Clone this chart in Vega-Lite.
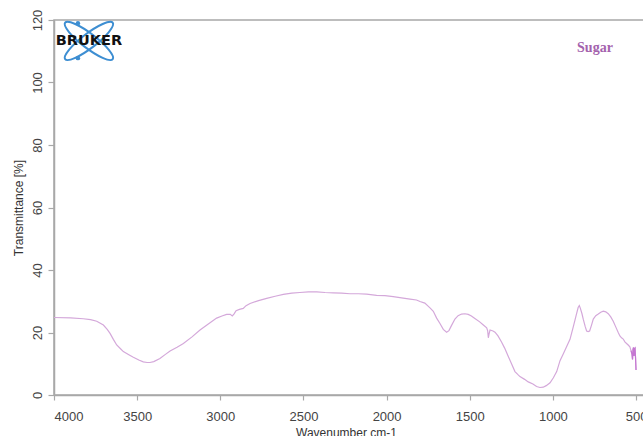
{
  "$schema": "https://vega.github.io/schema/vega-lite/v6.json",
  "width": 590,
  "height": 375,
  "autosize": {"type": "none"},
  "padding": {"left": 54, "top": 20, "right": 0, "bottom": 41},
  "background": "white",
  "config": {
    "view": {"stroke": "#a8a8a8", "strokeWidth": 1.5},
    "axis": {
      "domainColor": "#a8a8a8", "domainWidth": 1.5, "tickColor": "#a8a8a8", "tickWidth": 1.2,
      "labelColor": "#444444", "titleColor": "#333333",
      "labelFont": "Liberation Sans", "titleFont": "Liberation Sans",
      "labelFontSize": 13, "titleFontSize": 12, "titleFontWeight": "normal", "grid": false
    }
  },
  "datasets": {
    "spectrum": [
      {"wn":4000,"t":24.8},{"wn":3900,"t":24.7},{"wn":3824,"t":24.4},{"wn":3780,"t":24.1},{"wn":3743,"t":23.6},
      {"wn":3703,"t":22.4},{"wn":3680,"t":21.0},{"wn":3663,"t":19.7},{"wn":3643,"t":17.8},{"wn":3623,"t":16.0},
      {"wn":3600,"t":14.8},{"wn":3583,"t":13.9},{"wn":3550,"t":12.9},{"wn":3523,"t":12.1},{"wn":3490,"t":11.2},
      {"wn":3463,"t":10.6},{"wn":3440,"t":10.4},{"wn":3423,"t":10.4},{"wn":3400,"t":10.7},{"wn":3363,"t":11.7},
      {"wn":3330,"t":13.0},{"wn":3302,"t":14.1},{"wn":3260,"t":15.3},{"wn":3222,"t":16.5},{"wn":3170,"t":18.6},
      {"wn":3122,"t":20.8},{"wn":3070,"t":22.8},{"wn":3022,"t":24.6},{"wn":2990,"t":25.3},{"wn":2962,"t":25.8},
      {"wn":2940,"t":25.8},{"wn":2928,"t":25.3},{"wn":2918,"t":25.9},{"wn":2905,"t":27.0},{"wn":2885,"t":27.4},
      {"wn":2862,"t":27.7},{"wn":2845,"t":28.6},{"wn":2821,"t":29.3},{"wn":2770,"t":30.2},{"wn":2721,"t":30.9},
      {"wn":2670,"t":31.6},{"wn":2621,"t":32.2},{"wn":2570,"t":32.6},{"wn":2521,"t":32.8},{"wn":2470,"t":33.0},
      {"wn":2420,"t":33.0},{"wn":2370,"t":32.8},{"wn":2320,"t":32.7},{"wn":2270,"t":32.6},{"wn":2220,"t":32.4},
      {"wn":2170,"t":32.4},{"wn":2120,"t":32.3},{"wn":2060,"t":31.9},{"wn":2010,"t":31.8},{"wn":1960,"t":31.5},
      {"wn":1910,"t":31.1},{"wn":1859,"t":30.7},{"wn":1820,"t":30.4},{"wn":1799,"t":29.9},{"wn":1770,"t":29.4},
      {"wn":1739,"t":27.9},{"wn":1719,"t":26.8},{"wn":1699,"t":24.6},{"wn":1679,"t":22.9},{"wn":1659,"t":21.0},
      {"wn":1639,"t":20.1},{"wn":1625,"t":20.6},{"wn":1610,"t":22.2},{"wn":1589,"t":24.3},{"wn":1570,"t":25.4},
      {"wn":1549,"t":25.9},{"wn":1529,"t":26.0},{"wn":1509,"t":25.8},{"wn":1490,"t":25.3},{"wn":1469,"t":24.5},
      {"wn":1440,"t":23.4},{"wn":1418,"t":22.4},{"wn":1398,"t":21.5},{"wn":1392,"t":20.5},{"wn":1388,"t":18.3},
      {"wn":1384,"t":19.5},{"wn":1378,"t":20.8},{"wn":1360,"t":20.5},{"wn":1348,"t":20.1},{"wn":1330,"t":18.9},
      {"wn":1308,"t":16.9},{"wn":1290,"t":15.0},{"wn":1268,"t":12.3},{"wn":1248,"t":9.9},{"wn":1228,"t":7.5},
      {"wn":1210,"t":6.5},{"wn":1198,"t":5.9},{"wn":1170,"t":5.0},{"wn":1148,"t":4.2},{"wn":1120,"t":3.5},
      {"wn":1098,"t":2.7},{"wn":1078,"t":2.4},{"wn":1058,"t":2.5},{"wn":1040,"t":3.0},{"wn":1017,"t":3.9},
      {"wn":997,"t":5.5},{"wn":977,"t":7.5},{"wn":957,"t":11.0},{"wn":937,"t":13.2},{"wn":917,"t":15.5},
      {"wn":897,"t":17.8},{"wn":877,"t":21.9},{"wn":860,"t":25.5},{"wn":848,"t":28.0},{"wn":841,"t":28.6},
      {"wn":835,"t":27.8},{"wn":825,"t":26.0},{"wn":817,"t":24.2},{"wn":805,"t":21.8},{"wn":797,"t":20.5},
      {"wn":788,"t":20.3},{"wn":779,"t":20.5},{"wn":768,"t":22.3},{"wn":757,"t":24.3},{"wn":742,"t":25.4},
      {"wn":727,"t":25.9},{"wn":712,"t":26.5},{"wn":697,"t":26.8},{"wn":682,"t":26.6},{"wn":667,"t":26.0},
      {"wn":652,"t":25.0},{"wn":637,"t":23.6},{"wn":622,"t":21.8},{"wn":607,"t":20.0},{"wn":597,"t":18.9},
      {"wn":587,"t":18.3},{"wn":577,"t":17.9},{"wn":567,"t":17.0},{"wn":557,"t":16.5},{"wn":547,"t":16.0},
      {"wn":537,"t":15.4},{"wn":530,"t":14.2},{"wn":524,"t":13.0},{"wn":521,"t":11.4},{"wn":518,"t":14.6},
      {"wn":515,"t":15.2},{"wn":512,"t":12.5},{"wn":509,"t":14.8},{"wn":506,"t":15.0},{"wn":503,"t":12.0},
      {"wn":500,"t":8.0}
    ],
    "logo": [{"wn": 3790, "t": 113.3, "label": "BRUKER"}],
    "logodots": [{"wn": 3856, "t": 119.0}, {"wn": 3856, "t": 107.8}],
    "sample": [{"wn": 747, "t": 111.1, "label": "Sugar"}]
  },
  "encoding": {
    "x": {
      "field": "wn", "type": "quantitative",
      "scale": {"domain": [4000, 452], "nice": false, "zero": false},
      "axis": {
        "values": [4000, 3500, 3000, 2500, 2000, 1500, 1000, 500],
        "format": "d", "tickSize": 5, "labelPadding": 10,
        "title": "Wavenumber cm-1", "titlePadding": 4, "titleX": 292
      }
    },
    "y": {
      "field": "t", "type": "quantitative",
      "scale": {"domain": [0, 120], "nice": false},
      "axis": {
        "values": [0, 20, 40, 60, 80, 100, 120],
        "tickSize": 6, "labelPadding": 4, "labelAngle": 270,
        "labelAlign": "center", "labelBaseline": "bottom",
        "title": "Transmittance [%]", "titlePadding": 6
      }
    }
  },
  "layer": [
    {
      "data": {"name": "spectrum"},
      "mark": {"type": "line", "color": "#d4a8da", "strokeWidth": 1.2}
    },
    {
      "data": {"name": "spectrum"},
      "transform": [{"filter": "datum.wn <= 530"}],
      "mark": {"type": "line", "color": "#c577d2", "strokeWidth": 1.2}
    },
    {
      "data": {"name": "logo"},
      "mark": {"type": "point", "shape": "M -1 0 A 1 0.24 0 1 1 1 0 A 1 0.24 0 1 1 -1 0 Z", "size": 3600, "angle": 37.5, "filled": false, "stroke": "#3d8ed2", "strokeWidth": 2, "opacity": 1}
    },
    {
      "data": {"name": "logo"},
      "mark": {"type": "point", "shape": "M -1 0 A 1 0.24 0 1 1 1 0 A 1 0.24 0 1 1 -1 0 Z", "size": 3600, "angle": -37.5, "filled": false, "stroke": "#3d8ed2", "strokeWidth": 2, "opacity": 1}
    },
    {
      "data": {"name": "logodots"},
      "mark": {"type": "point", "shape": "circle", "size": 20, "filled": true, "color": "#3d8ed2", "opacity": 1}
    },
    {
      "data": {"name": "logo"},
      "mark": {"type": "text", "font": "DejaVu Sans", "fontWeight": "bold", "fontSize": 14.5, "color": "#111111", "align": "center", "baseline": "middle"},
      "encoding": {"text": {"field": "label"}}
    },
    {
      "data": {"name": "sample"},
      "mark": {"type": "text", "font": "Liberation Serif", "fontWeight": "bold", "fontSize": 14, "color": "#a462ad", "align": "center", "baseline": "middle"},
      "encoding": {"text": {"field": "label"}}
    }
  ]
}
